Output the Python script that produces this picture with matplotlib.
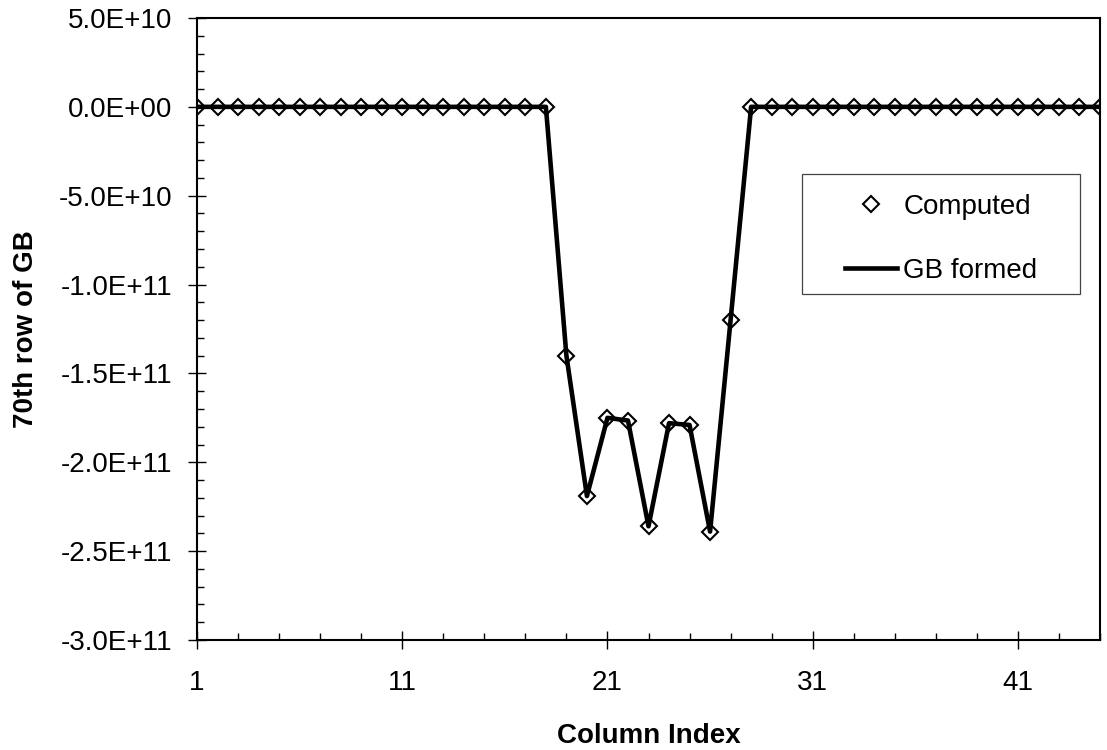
import numpy as np
import matplotlib
matplotlib.use("Agg")
import matplotlib.pyplot as plt
from matplotlib.ticker import FixedLocator, MultipleLocator, FuncFormatter
from matplotlib.lines import Line2D
from matplotlib.patches import Rectangle

plt.rcParams['font.family'] = ['Liberation Sans', 'DejaVu Sans']

column_index = list(range(1, 46))
computed = [0.0] * 18 + [-1.40e11, -2.19e11, -1.75e11, -1.765e11, -2.36e11,
                         -1.78e11, -1.79e11, -2.39e11, -1.20e11] + [0.0] * 18
gb_formed = list(computed)

x_major = [1, 11, 21, 31, 41]
y_major = [5e10, 0, -5e10, -1e11, -1.5e11, -2e11, -2.5e11, -3e11]

FS = 20
MS = 8.5

fig = plt.figure(figsize=(11.07, 7.5), dpi=100)
ax = fig.add_axes([197/1107, (750-640)/750, 903/1107, 622/750])

ax.plot(column_index, gb_formed, color='black', lw=3.3, zorder=2)
ax.plot(column_index, computed, ls='none', marker='D', ms=MS,
        mfc='none', mec='black', mew=1.5, zorder=3)

ax.set_xlim(1, 45)
ax.set_ylim(-3e11, 5e10)
ax.xaxis.set_major_locator(FixedLocator(x_major))
ax.xaxis.set_minor_locator(FixedLocator(list(range(1, 46, 2))))
ax.yaxis.set_major_locator(FixedLocator(y_major))
ax.yaxis.set_minor_locator(MultipleLocator(1e10))
ax.yaxis.set_major_formatter(FuncFormatter(lambda v, p: "{:.1E}".format(v)))

ax.tick_params(which='major', direction='inout', length=13, width=1.0,
               labelsize=FS, color='black')
ax.tick_params(axis='x', which='major', pad=15)
ax.tick_params(axis='y', which='major', pad=11)
ax.tick_params(which='minor', direction='in', length=5, width=1.0)
for s in ax.spines.values():
    s.set_linewidth(1.5)
    s.set_color('black')

ax.set_xlabel('Column Index', fontsize=FS, fontweight='bold')
ax.set_ylabel('70th row of GB', fontsize=FS, fontweight='bold')
ax.xaxis.set_label_coords(0.5, -0.133)
ax.yaxis.set_label_coords(-0.175, 0.5)

# legend frame
ax.add_patch(Rectangle((0.670, 0.556), 0.308, 0.193, transform=ax.transAxes,
                       fill=True, facecolor='white', edgecolor='#444444',
                       lw=0.9, zorder=5))
handles = [Line2D([], [], ls='none', marker='D', ms=MS * 0.9, mfc='none',
                  mec='black', mew=1.5),
           Line2D([], [], color='black', lw=3.3)]
leg = ax.legend(handles, ['Computed', 'GB formed'], loc='center',
                bbox_to_anchor=(0.824, 0.6447), frameon=False, fontsize=FS,
                borderpad=0, handlelength=1.87, handletextpad=0.25,
                labelspacing=1.37, numpoints=1)
leg.set_zorder(6)

fig.savefig('out.png', dpi=100)
